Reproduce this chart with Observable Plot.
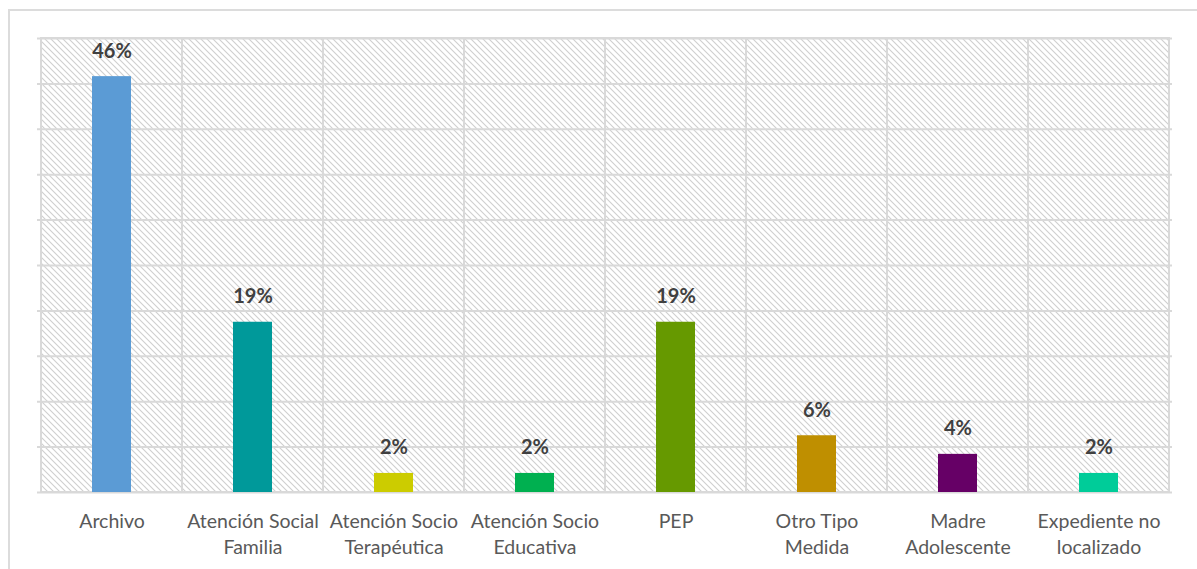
<!DOCTYPE html>
<html>
<head>
<meta charset="utf-8">
<script src="https://cdn.jsdelivr.net/npm/d3@7"></script>
<script src="https://cdn.jsdelivr.net/npm/@observablehq/plot@0.6"></script>
<style>
  html, body { margin: 0; padding: 0; background: #fff; width: 1197px; height: 569px; overflow: hidden; }
  #frame { position: absolute; left: 8px; top: 9px; width: 1400px; height: 800px; border: 2px solid #dcdcdc; box-sizing: border-box; }
  #chart { position: absolute; left: 0; top: 0; }
</style>
</head>
<body>
<svg width="0" height="0" style="position:absolute">
  <defs>
    <pattern id="hatch" patternUnits="userSpaceOnUse" width="6" height="6">
      <rect width="6" height="6" fill="#ffffff"/>
      <path d="M-1,-1 L7,7 M-1,5 L1,7 M5,-1 L7,1" stroke="#cfcfcf" stroke-width="1.1"/>
    </pattern>
  </defs>
</svg>
<div id="frame"></div>
<div id="chart"></div>
<script>
const categories = [
  "Archivo",
  "Atención Social\nFamilia",
  "Atención Socio\nTerapéutica",
  "Atención Socio\nEducativa",
  "PEP",
  "Otro Tipo\nMedida",
  "Madre\nAdolescente",
  "Expediente no\nlocalizado"
];
const shares = [0.458, 0.1875, 0.021, 0.021, 0.1875, 0.0625, 0.042, 0.021];
const colors = ["#5b9bd5", "#00999a", "#cccc00", "#00b050", "#669900", "#bf8f00", "#660066", "#00cc99"];
const yTicks = [0, 0.05, 0.10, 0.15, 0.20, 0.25, 0.30, 0.35, 0.40, 0.45, 0.50];

const data = categories.map((c, i) => ({category: c, value: shares[i], color: colors[i]}));

const chart = Plot.plot({
  width: 1197,
  height: 569,
  marginLeft: 37,
  marginRight: 25,
  marginTop: 38,
  marginBottom: 77,
  style: {fontFamily: "Lato, 'Open Sans', sans-serif", background: "transparent"},
  x: {domain: categories, padding: 0, label: null},
  y: {domain: [0, 0.5], axis: null},
  marks: [
    Plot.barY(categories, {x: d => d, y1: 0, y2: 0.5, fill: "url(#hatch)", stroke: "#d9d9d9", strokeWidth: 2}),
    Plot.ruleY(yTicks, {stroke: "#d9d9d9", strokeWidth: 2}),
    Plot.barY(data, {x: "category", y: "value", fill: "color", insetLeft: 51, insetRight: 51}),
    Plot.text(data, {x: "category", y: "value", text: d => d3.format(".0%")(d.value), lineAnchor: "bottom", dy: -19, fontSize: 20, fontWeight: "bold", fill: "#404040"}),
    Plot.axisX({tickSize: 0, tickPadding: 17, fontSize: 19.5, fill: "#595959", lineHeight: 1.34, label: null})
  ]
});
document.getElementById("chart").appendChild(chart);
</script>
</body>
</html>
